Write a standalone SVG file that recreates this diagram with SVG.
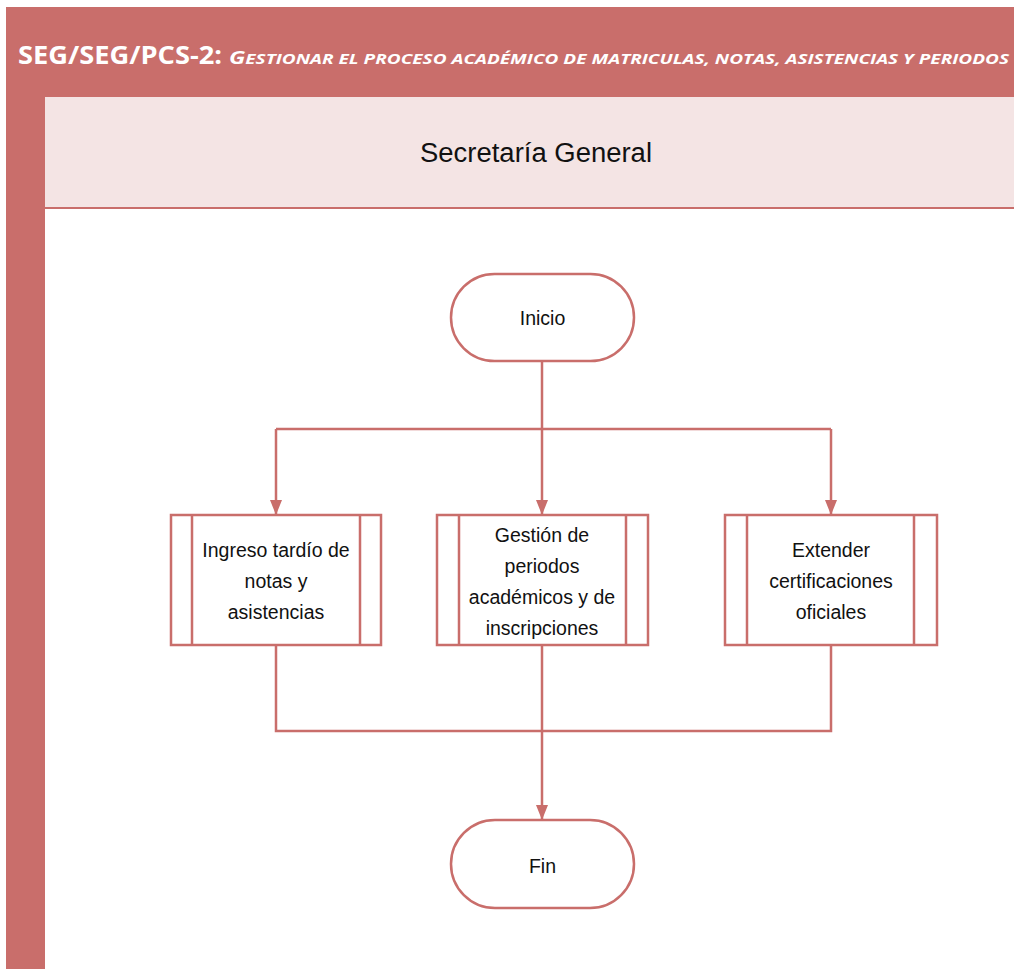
<svg xmlns="http://www.w3.org/2000/svg" width="1014" height="969" viewBox="0 0 1014 969">
<defs>
<style>
.lane{fill:#C96E6B}
.hdr{fill:#F4E4E4}
.node{fill:#FFFFFF;stroke:#C96E6B;stroke-width:2.5}
.ln{fill:none;stroke:#C96E6B;stroke-width:2.5}
.t{font-family:"Liberation Sans",Arial,sans-serif;font-size:19.5px;fill:#111;text-anchor:middle}
.title{font-family:"Open Sans","Liberation Sans",sans-serif;font-weight:bold;fill:#FFFFFF}
</style>
<marker id="arr" viewBox="0 0 15 12" refX="15" refY="6" markerWidth="15" markerHeight="12" markerUnits="userSpaceOnUse" orient="auto">
<path d="M0,0 L15,6 L0,12 Z" fill="#C96E6B"/>
</marker>
</defs>
<rect x="0" y="0" width="1014" height="969" fill="#FFFFFF"/>
<g id="pool">
<rect class="lane" x="6" y="7" width="1008" height="962"/>
<rect class="hdr" x="45" y="97" width="969" height="110"/>
<rect x="45" y="207" width="969" height="2" fill="#C96E6B"/>
<rect x="45" y="209" width="969" height="760" fill="#FFFFFF"/>
<text class="title" x="18" y="64" font-size="25" textLength="204" lengthAdjust="spacingAndGlyphs">SEG/SEG/PCS-2:</text>
<text class="title" x="229" y="64" font-style="italic" textLength="780" lengthAdjust="spacingAndGlyphs"><tspan font-size="18">G</tspan><tspan font-size="14.5">ESTIONAR EL PROCESO ACADÉMICO DE MATRICULAS, NOTAS, ASISTENCIAS Y PERIODOS</tspan></text>
<text x="536" y="162" font-family="Liberation Sans,Arial,sans-serif" font-size="27" fill="#111" text-anchor="middle" textLength="232" lengthAdjust="spacingAndGlyphs">Secretaría General</text>
</g>
<g id="connectors">
<path class="ln" d="M542,361 V429"/>
<path class="ln" d="M276,429 H831"/>
<path class="ln" d="M276,429 V515" marker-end="url(#arr)"/>
<path class="ln" d="M542,429 V515" marker-end="url(#arr)"/>
<path class="ln" d="M831,429 V515" marker-end="url(#arr)"/>
<path class="ln" d="M276,645 V731 H831 V645"/>
<path class="ln" d="M542,645 V820" marker-end="url(#arr)"/>
</g>
<g id="inicio">
<rect class="node" x="451" y="274" width="183" height="87" rx="43.5"/>
<text class="t" x="542.5" y="325">Inicio</text>
</g>
<g id="ingreso">
<rect class="node" x="171" y="515" width="210" height="130"/>
<path class="ln" d="M192,515 V645 M360,515 V645"/>
<text class="t" x="276" y="557">Ingreso tardío de</text>
<text class="t" x="276" y="588">notas y</text>
<text class="t" x="276" y="619">asistencias</text>
</g>
<g id="gestion">
<rect class="node" x="437" y="515" width="211" height="130"/>
<path class="ln" d="M459,515 V645 M626,515 V645"/>
<text class="t" x="542" y="542">Gestión de</text>
<text class="t" x="542" y="573">periodos</text>
<text class="t" x="542" y="604">académicos y de</text>
<text class="t" x="542" y="635">inscripciones</text>
</g>
<g id="extender">
<rect class="node" x="725" y="515" width="212" height="130"/>
<path class="ln" d="M747,515 V645 M914,515 V645"/>
<text class="t" x="831" y="557">Extender</text>
<text class="t" x="831" y="588">certificaciones</text>
<text class="t" x="831" y="619">oficiales</text>
</g>
<g id="fin">
<rect class="node" x="451" y="820" width="183" height="88" rx="44"/>
<text class="t" x="542.5" y="873">Fin</text>
</g>
</svg>
